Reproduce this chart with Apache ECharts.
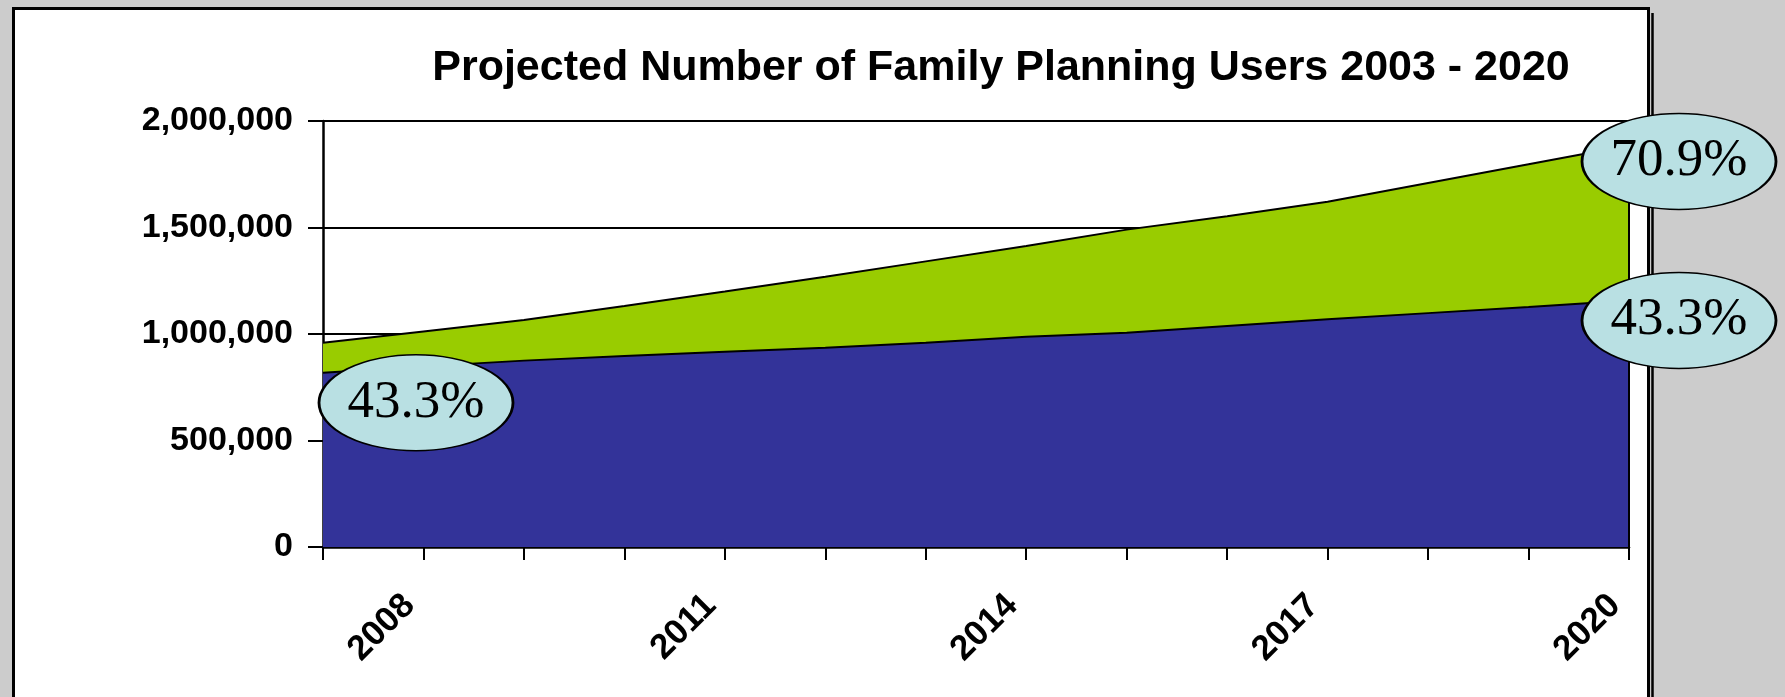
<!DOCTYPE html>
<html>
<head>
<meta charset="utf-8">
<script src="https://cdn.jsdelivr.net/npm/echarts@6/dist/echarts.min.js"></script>
<style>
  html, body { margin: 0; padding: 0; background: #cccccc; }
  #chart { width: 1785px; height: 697px; }
</style>
</head>
<body>
<div id="chart"></div>
<script>
// ---- data ----
const years = ['2007','2008','2009','2010','2011','2012','2013','2014','2015','2016','2017','2018','2019','2020'];
const labelledYears = ['2008','2011','2014','2017','2020'];
const baseUsers = [818000, 848000, 875000, 897000, 917000, 936000, 959000, 987000, 1006000, 1038000, 1069000, 1098000, 1127000, 1157000];
const totalUsers = [959000, 1012000, 1066000, 1131000, 1199000, 1269000, 1341000, 1413000, 1490000, 1553000, 1621000, 1709000, 1797000, 1885000];
const prevalenceLabels = ['43.3%', '70.9%', '43.3%'];
const titleText = 'Projected Number of Family Planning Users 2003 - 2020';

// ---- styling ----
const sansBold = { fontFamily: 'Liberation Sans, Arial, sans-serif', fontWeight: 'bold', color: '#000' };
const ellipseStyle = {
  symbol: 'circle',
  symbolSize: [194, 96],
  itemStyle: { color: '#b9e0e3', borderColor: '#000', borderWidth: 2 },
  label: {
    show: true, position: 'inside', color: '#000',
    fontFamily: 'Liberation Serif, Times New Roman, serif', fontSize: 53
  }
};
function fmt(v) { return String(v).replace(/\B(?=(\d{3})+(?!\d))/g, ','); }

const last = years.length - 1;
const chart = echarts.init(document.getElementById('chart'), null, { renderer: 'canvas' });
chart.setOption({
  backgroundColor: '#cccccc',
  animation: false,
  title: {
    text: titleText,
    left: 996, top: 42, textAlign: 'center',
    textStyle: Object.assign({ fontSize: 43 }, sansBold)
  },
  graphic: [
    { type: 'rect', z: -100, shape: { x: 13.5, y: 8.5, width: 1635, height: 720 },
      style: { fill: '#ffffff', stroke: '#000', lineWidth: 3 } },
    { type: 'line', z: -100, shape: { x1: 1652.5, y1: 13, x2: 1652.5, y2: 700 },
      style: { stroke: '#000', lineWidth: 2.5 } }
  ],
  grid: { left: 323, right: 156, top: 121, bottom: 150, containLabel: false },
  xAxis: {
    type: 'category', data: years, boundaryGap: false,
    axisLine: { lineStyle: { color: '#000', width: 2.5 } },
    axisTick: { show: true, interval: 0, length: 13, lineStyle: { color: '#000', width: 2 } },
    axisLabel: Object.assign({
      fontSize: 35, rotate: 45, margin: 39, padding: [0, 20, 0, 0],
      interval: (idx, val) => labelledYears.indexOf(val) >= 0
    }, sansBold),
    splitLine: { show: false }
  },
  yAxis: [
    {
      type: 'value', min: 0, max: 2000000, interval: 500000,
      axisLine: { show: true, lineStyle: { color: '#000', width: 2.5 } },
      axisTick: { show: true, length: 15, lineStyle: { color: '#000', width: 2 } },
      axisLabel: Object.assign({ fontSize: 34, margin: 30, formatter: fmt }, sansBold),
      splitLine: { show: true, lineStyle: { color: '#000', width: 2 } }
    },
    {
      type: 'value', position: 'right', min: 0, max: 2000000, interval: 500000, z: 4,
      axisLine: { show: true, lineStyle: { color: '#000', width: 2 } },
      axisTick: { show: false }, axisLabel: { show: false }, splitLine: { show: false }
    }
  ],
  series: [
    {
      name: 'Total users', type: 'line', data: totalUsers, z: 2,
      symbol: 'none', lineStyle: { color: '#000', width: 2 },
      areaStyle: { color: '#99cc00', opacity: 1 },
      markPoint: Object.assign({
        data: [{ coord: [years[last], totalUsers[last]], symbolOffset: [50, 16], label: { formatter: prevalenceLabels[1] } }]
      }, ellipseStyle)
    },
    {
      name: 'Base users', type: 'line', data: baseUsers, z: 3,
      symbol: 'none', lineStyle: { color: '#000', width: 2 },
      areaStyle: { color: '#333399', opacity: 1 },
      markPoint: Object.assign({
        data: [
          { coord: [years[0], baseUsers[0]], symbolOffset: [93, 30], label: { formatter: prevalenceLabels[0] } },
          { coord: [years[last], baseUsers[last]], symbolOffset: [50, 20], label: { formatter: prevalenceLabels[2] } }
        ]
      }, ellipseStyle)
    }
  ]
});
</script>
</body>
</html>
